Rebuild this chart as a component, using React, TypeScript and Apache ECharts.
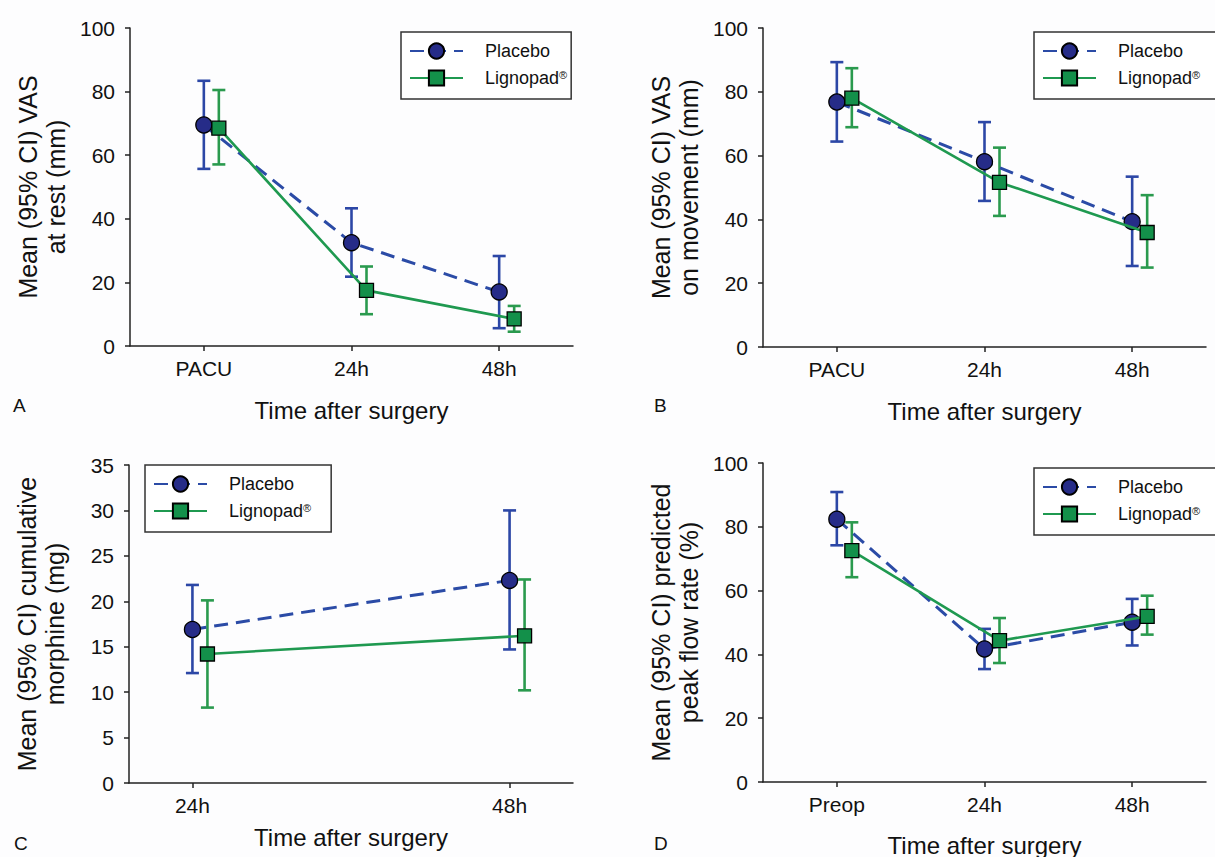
import React, { useEffect, useRef } from "react";
import * as echarts from "echarts";

const FONT = '"Liberation Sans", Arial, Helvetica, sans-serif';

// ---------- Data ----------
// Panel A: VAS at rest
const catsA = ["PACU", "24h", "48h"];
const placeboA = [69.5, 32.5, 17.0];
const placeboALo = [55.7, 21.8, 5.6];
const placeboAHi = [83.4, 43.3, 28.3];
const lignoA = [68.5, 17.5, 8.5];
const lignoALo = [57.1, 10.0, 4.5];
const lignoAHi = [80.5, 25.0, 12.6];

// Panel B: VAS on movement
const catsB = ["PACU", "24h", "48h"];
const placeboB = [76.8, 58.1, 39.3];
const placeboBLo = [64.4, 45.8, 25.4];
const placeboBHi = [89.3, 70.5, 53.4];
const lignoB = [78.0, 51.6, 35.9];
const lignoBLo = [68.9, 41.1, 24.9];
const lignoBHi = [87.4, 62.5, 47.6];

// Panel C: cumulative morphine
const catsC = ["24h", "48h"];
const placeboC = [16.9, 22.3];
const placeboCLo = [12.1, 14.7];
const placeboCHi = [21.8, 30.0];
const lignoC = [14.2, 16.2];
const lignoCLo = [8.3, 10.2];
const lignoCHi = [20.1, 22.4];

// Panel D: predicted peak flow rate
const catsD = ["Preop", "24h", "48h"];
const placeboD = [82.4, 41.7, 50.1];
const placeboDLo = [74.2, 35.4, 42.8];
const placeboDHi = [90.9, 48.0, 57.4];
const lignoD = [72.5, 44.3, 51.9];
const lignoDLo = [64.2, 37.3, 46.2];
const lignoDHi = [81.4, 51.4, 58.4];

const seriesNames = ["Placebo", "Lignopad"];
const xAxisTitle = "Time after surgery";

// ---------- Style ----------
const PLACEBO_LINE = "#2b4ba6";
const PLACEBO_FILL = "#262c88";
const PLACEBO_ERR = "#2c47a6";
const LIGNO_LINE = "#1f9950";
const LIGNO_FILL = "#13904a";
const LIGNO_ERR = "#2a9a4e";
const AXIS = "#222";
const DODGE_PX = 15;

const panels = [
  {
    cats: catsA, p: placeboA, pLo: placeboALo, pHi: placeboAHi, l: lignoA, lLo: lignoALo, lHi: lignoAHi,
    yMax: 100, yInt: 20, xMin: 0.5, xMax: 3.5,
    grid: { left: 130, top: 28, width: 443, height: 318 },
    yName: "Mean (95% CI) VAS\nat rest (mm)", yNameGap: 60, xNameGap: 52,
    legend: { left: 401, top: 32, padRight: 4 }, letter: { text: "A", x: 13, y: 396 },
  },
  {
    cats: catsB, p: placeboB, pLo: placeboBLo, pHi: placeboBHi, l: lignoB, lLo: lignoBLo, lHi: lignoBHi,
    yMax: 100, yInt: 20, xMin: 0.5, xMax: 3.5,
    grid: { left: 763, top: 28, width: 443, height: 319 },
    yName: "Mean (95% CI) VAS\non movement (mm)", yNameGap: 60, xNameGap: 52,
    legend: { left: 1034, top: 32, padRight: 30 }, letter: { text: "B", x: 654, y: 396 },
  },
  {
    cats: catsC, p: placeboC, pLo: placeboCLo, pHi: placeboCHi, l: lignoC, lLo: lignoCLo, lHi: lignoCHi,
    yMax: 35, yInt: 5, xMin: 0.8, xMax: 2.2,
    grid: { left: 129, top: 465, width: 444, height: 318 },
    yName: "Mean (95% CI) cumulative\nmorphine (mg)", yNameGap: 60, xNameGap: 42,
    legend: { left: 145, top: 465, padRight: 20 }, letter: { text: "C", x: 14, y: 834 },
  },
  {
    cats: catsD, p: placeboD, pLo: placeboDLo, pHi: placeboDHi, l: lignoD, lLo: lignoDLo, lHi: lignoDHi,
    yMax: 100, yInt: 20, xMin: 0.5, xMax: 3.5,
    grid: { left: 763, top: 463, width: 443, height: 319 },
    yName: "Mean (95% CI) predicted\npeak flow rate (%)", yNameGap: 60, xNameGap: 51,
    legend: { left: 1034, top: 468, padRight: 30 }, letter: { text: "D", x: 654, y: 834 },
  },
];

function errRender(color: string) {
  return (params: any, api: any) => {
    const x = api.value(0);
    const lo = api.value(1);
    const hi = api.value(2);
    const a = api.coord([x, lo]);
    const b = api.coord([x, hi]);
    const w = 6.5;
    const st = { stroke: color, lineWidth: 2.6 };
    return {
      type: "group",
      children: [
        { type: "line", shape: { x1: a[0], y1: a[1], x2: b[0], y2: b[1] }, style: st },
        { type: "line", shape: { x1: a[0] - w, y1: a[1], x2: a[0] + w, y2: a[1] }, style: st },
        { type: "line", shape: { x1: b[0] - w, y1: b[1], x2: b[0] + w, y2: b[1] }, style: st },
      ],
    };
  };
}

function buildOption() {
  const grid: any[] = [];
  const xAxis: any[] = [];
  const yAxis: any[] = [];
  const legend: any[] = [];
  const series: any[] = [];
  const graphic: any[] = [];

  panels.forEach((pn, i) => {
    grid.push({ ...pn.grid, containLabel: false, outerBoundsMode: "none" });
    const ticks = pn.cats.map((_, k) => k + 1);
    const dodge = (DODGE_PX * (pn.xMax - pn.xMin)) / pn.grid.width;
    xAxis.push({
      type: "value",
      gridIndex: i,
      min: pn.xMin,
      max: pn.xMax,
      axisLine: { show: true, onZero: false, lineStyle: { color: AXIS, width: 1.5 } },
      axisTick: { show: true, customValues: ticks, length: 5, lineStyle: { color: AXIS, width: 1.5 } },
      axisLabel: {
        customValues: ticks,
        formatter: (v: number) => pn.cats[Math.round(v) - 1] ?? "",
        fontSize: 21,
        fontFamily: FONT,
        color: "#111",
        margin: 12,
      },
      splitLine: { show: false },
      name: xAxisTitle,
      nameLocation: "middle",
      nameGap: pn.xNameGap,
      nameTextStyle: { fontSize: 24, fontFamily: FONT, color: "#111" },
    });
    yAxis.push({
      type: "value",
      gridIndex: i,
      min: 0,
      max: pn.yMax,
      interval: pn.yInt,
      axisLine: { show: true, lineStyle: { color: AXIS, width: 1.5 } },
      axisTick: { show: true, length: 5, lineStyle: { color: AXIS, width: 1.5 } },
      axisLabel: { fontSize: 21, fontFamily: FONT, color: "#111", margin: 15 },
      splitLine: { show: false },
      name: pn.yName,
      nameLocation: "middle",
      nameGap: pn.yNameGap,
      nameTextStyle: { fontSize: 25, fontFamily: FONT, color: "#111", lineHeight: 28 },
    });
    legend.push({
      orient: "vertical",
      left: pn.legend.left,
      top: pn.legend.top,
      data: seriesNames,
      selectedMode: false,
      borderColor: "#333",
      borderWidth: 1.5,
      backgroundColor: "#fff",
      padding: [10, pn.legend.padRight, 12, 8],
      itemWidth: 53,
      itemHeight: 19,
      itemGap: 9,
      formatter: (n: string) => (n === "Lignopad" ? "Lignopad{sup|®}" : n),
      textStyle: {
        fontFamily: FONT,
        fontSize: 18,
        color: "#111",
        padding: [0, 0, 0, 17],
        rich: {
          sup: { fontSize: 11, fontFamily: FONT, color: "#111", verticalAlign: "top" },
        },
      },
    });

    series.push({
      type: "line",
      name: "Placebo",
      xAxisIndex: i,
      yAxisIndex: i,
      data: pn.p.map((v, k) => [k + 1, v]),
      symbol: "circle",
      symbolSize: 16,
      lineStyle: { color: PLACEBO_LINE, width: 3, type: [14, 8] },
      itemStyle: { color: PLACEBO_FILL, borderColor: "#000", borderWidth: 1.3 },
      z: 4,
    });
    series.push({
      type: "line",
      name: "Lignopad",
      xAxisIndex: i,
      yAxisIndex: i,
      data: pn.l.map((v, k) => [k + 1 + dodge, v]),
      symbol: "rect",
      symbolSize: 14,
      lineStyle: { color: LIGNO_LINE, width: 2.6 },
      itemStyle: { color: LIGNO_FILL, borderColor: "#000", borderWidth: 1.3 },
      z: 5,
    });
    series.push({
      type: "custom",
      name: "Placebo 95% CI",
      xAxisIndex: i,
      yAxisIndex: i,
      renderItem: errRender(PLACEBO_ERR),
      data: pn.p.map((_, k) => [k + 1, pn.pLo[k], pn.pHi[k]]),
      encode: { x: 0, y: [1, 2] },
      silent: true,
      z: 2,
    });
    series.push({
      type: "custom",
      name: "Lignopad 95% CI",
      xAxisIndex: i,
      yAxisIndex: i,
      renderItem: errRender(LIGNO_ERR),
      data: pn.l.map((_, k) => [k + 1 + dodge, pn.lLo[k], pn.lHi[k]]),
      encode: { x: 0, y: [1, 2] },
      silent: true,
      z: 3,
    });

    graphic.push({
      type: "text",
      x: pn.letter.x,
      y: pn.letter.y,
      style: { text: pn.letter.text, font: `19px ${FONT}`, fill: "#111" },
    });
  });

  return {
    animation: false,
    backgroundColor: "#fdfdfe",
    grid,
    xAxis,
    yAxis,
    legend,
    series,
    graphic,
    tooltip: { show: false },
  };
}

export default function App() {
  const ref = useRef<HTMLDivElement>(null);
  useEffect(() => {
    if (!ref.current) return;
    const chart = echarts.init(ref.current, undefined, { renderer: "svg" });
    chart.setOption(buildOption() as any);
    return () => chart.dispose();
  }, []);
  return (
    <div
      ref={ref}
      style={{ position: "absolute", left: 0, top: 0, width: 1215, height: 857 }}
    />
  );
}
